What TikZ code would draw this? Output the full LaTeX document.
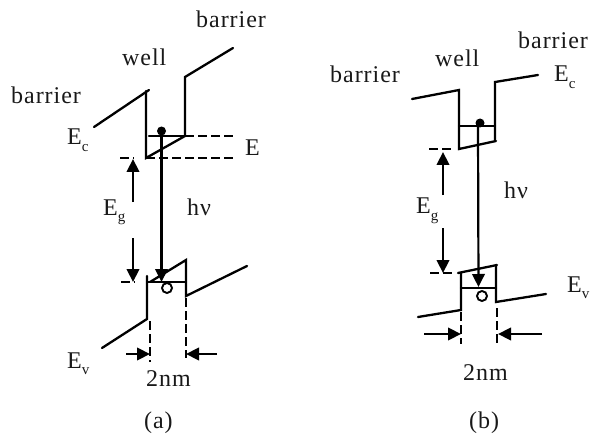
\documentclass[tikz,border=0pt]{standalone}
\usepackage{fontspec}
\setmainfont{Liberation Serif}[LetterSpace=4]
\usetikzlibrary{arrows.meta}
\newcommand{\lsub}[1]{\raisebox{-6pt}{\fontsize{15}{15}\selectfont #1}}
\tikzset{
 band/.style={line width=2.3pt,line cap=round},
 dashline/.style={line width=1.8pt,dash pattern=on 9pt off 4pt},
 arr/.style={line width=2.2pt,-{Triangle[length=13pt,width=12.5pt]}},
 lab/.style={inner sep=0pt,anchor=base west,font=\fontsize{24}{26}\selectfont,text=black!90},
 elec/.style={circle,fill=black,inner sep=0pt,minimum size=9pt},
 hole/.style={circle,draw,line width=1.9pt,inner sep=0pt,minimum size=10pt}
}
\begin{document}
\begin{tikzpicture}[x=1pt,y=-1pt]
\useasboundingbox (0,0) rectangle (590,436);
% (a)
\draw[band] (94,127) -- (149,90);
\draw[band] (146,91) -- (146,158) -- (185,136) -- (185,77) -- (233,48);
\draw[band] (149,136) -- (185,136);
\draw[dashline] (185,136) -- (233,136);
\draw[dashline] (120,158) -- (134,158);
\draw[dashline] (146,158) -- (233,158);
\node[elec] (ea) at (161.5,131) {};
\node[hole] (ha) at (167,288) {};
\coordinate (ta) at (161.5,282);
\draw[arr] (ea) -- (ta);
\coordinate (ga1) at (133,159);
\coordinate (ga2) at (133,282);
\coordinate (ga3) at (133,202);
\coordinate (ga4) at (133,238);
\draw[arr] (ga3) -- (ga1);
\draw[arr] (ga4) -- (ga2);
\draw[dashline] (121,282) -- (135,282);
\draw[band] (147,282) -- (186,282);
\draw[band] (150,282) -- (186,260) -- (186,296) -- (247,266);
\draw[band] (147,276) -- (147,319) -- (102,348);
\draw[dashline] (150,321) -- (150,362);
\draw[dashline] (186,298) -- (186,358);
\coordinate (da1) at (126,354);
\coordinate (da2) at (150,354);
\coordinate (da3) at (217,354);
\coordinate (da4) at (186,354);
\draw[arr] (da1) -- (da2);
\draw[arr] (da3) -- (da4);
\node[lab] (t1) at (11,103) {barrier};
\node[lab] (t2) at (122,66) {well};
\node[lab] (t3) at (196,28) {barrier};
\node[lab] (t4) at (67,145) {E\lsub{c}};
\node[lab] (t5) at (245,156) {E};
\node[lab] (t6) at (103,215) {E\lsub{g}};
\node[lab] (t7) at (187,215) {hν};
\node[lab] (t8) at (67,368) {E\lsub{v}};
\node[lab] (t9) at (146,386) {2nm};
\node[lab] (t10) at (144,428) {(a)};
% (b)
\draw[band] (412,99) -- (459,90) -- (459,149) -- (496,141);
\draw[band] (495,141) -- (495,82) -- (538,75);
\draw[band] (459,126) -- (495,126);
\node[elec] (eb) at (480,123) {};
\node[hole] (hb) at (482,296) {};
\coordinate (sb) at (478,125);
\coordinate (tb) at (478.5,287);
\draw[arr] (sb) -- (tb);
\draw[dashline] (429,149) -- (452,149);
\draw[dashline] (430,273) -- (452,273);
\coordinate (gb1) at (443,152);
\coordinate (gb2) at (443,273);
\coordinate (gb3) at (443,195);
\coordinate (gb4) at (443,228);
\draw[arr] (gb3) -- (gb1);
\draw[arr] (gb4) -- (gb2);
\draw[band] (458,273) -- (497,265);
\draw[band] (496,265) -- (496,302) -- (546,294);
\draw[band] (461,273) -- (461,310) -- (418,317);
\draw[band] (461,288) -- (496,288);
\draw[dashline] (461,312) -- (461,344);
\draw[dashline] (497,308) -- (497,344);
\coordinate (db1) at (424,334);
\coordinate (db2) at (461,334);
\coordinate (db3) at (542,334);
\coordinate (db4) at (498,334);
\draw[arr] (db1) -- (db2);
\draw[arr] (db3) -- (db4);
\node[lab] (u1) at (330,83) {barrier};
\node[lab] (u2) at (435,67) {well};
\node[lab] (u3) at (518,49) {barrier};
\node[lab] (u4) at (554,82) {E\lsub{c}};
\node[lab] (u5) at (416,214) {E\lsub{g}};
\node[lab] (u6) at (504,198) {hν};
\node[lab] (u7) at (567,292) {E\lsub{v}};
\node[lab] (u8) at (463,380) {2nm};
\node[lab] (u9) at (469,428) {(b)};
\end{tikzpicture}
\end{document}
